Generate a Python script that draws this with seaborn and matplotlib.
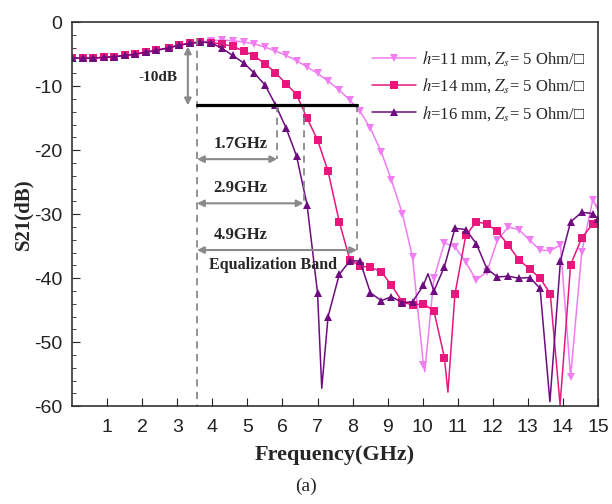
import numpy as np
import pandas as pd
import seaborn as sns
import matplotlib.pyplot as plt
from matplotlib.font_manager import FontProperties

# shared low-frequency part (all three curves overlap there)
low_freq = [0.0, 0.3, 0.6, 0.9, 1.2, 1.5, 1.8, 2.1, 2.4, 2.75, 3.05, 3.35, 3.65]
low_s21 = [-5.6, -5.6, -5.6, -5.5, -5.4, -5.2, -5.0, -4.7, -4.4, -4.0, -3.6, -3.3, -3.1]

hi_freq = [3.95, 4.28, 4.58, 4.9, 5.2, 5.5, 5.8, 6.1, 6.4, 6.7, 7.0, 7.3, 7.62, 7.92,
           8.21, 8.51, 8.82, 9.11, 9.42, 9.71, 10.02, 10.32, 10.62, 10.92, 11.23, 11.53,
           11.83, 12.13, 12.44, 12.74, 13.06, 13.35, 13.64, 13.93, 14.22, 14.54, 14.85, 15.0]

s21_h11 = [-2.9, -2.8, -2.9, -3.1, -3.4, -3.9, -4.5, -5.2, -6.0, -7.0, -8.0, -9.2, -10.6, -12.2,
           -13.9, -16.6, -20.3, -24.7, -29.9, -36.7, -53.5, -40.0, -34.5, -35.1, -37.5, -40.3,
           -39.0, -34.1, -32.0, -32.4, -34.1, -35.6, -35.7, -34.8, -55.4, -35.9, -27.8, -29.0]
s21_h14 = [-3.2, -3.4, -3.8, -4.5, -5.3, -6.5, -7.9, -9.6, -11.3, -15.0, -18.4, -23.3, -31.2, -37.1,
           -38.1, -38.3, -39.0, -41.1, -43.7, -44.2, -44.0, -45.1, -52.4, -42.5, -33.3, -31.2,
           -31.5, -32.7, -34.8, -37.1, -38.6, -40.0, -42.4, np.nan, -37.9, -33.7, -31.5, -31.4]
s21_h16 = [-3.2, -4.1, -5.2, -6.4, -8.0, -9.8, -12.9, -16.5, -20.9, -28.5, -42.3, -46.0, -39.4, -37.3,
           -37.3, -42.3, -43.5, -42.9, -43.8, -43.7, -41.1, -42.0, -38.2, -32.2, -32.4, -34.6,
           -38.5, -39.8, -39.7, -40.0, -39.9, -41.6, np.nan, -37.3, -31.2, -29.7, -29.9, -30.7]

# sharp resonance points between markers (line only)
dip_h11 = ([10.06], [-54.6])
dip_h14 = ([10.72, 13.92], [-57.8, -59.8])
dip_h16 = ([7.12, 10.15, 13.63], [-57.2, -39.3, -59.3])

labels = [r"$h$=11 mm, $Z_s$= 5 Ohm/□", r"$h$=14 mm, $Z_s$= 5 Ohm/□", r"$h$=16 mm, $Z_s$= 5 Ohm/□"]
colors = ["#f07ef0", "#e8177d", "#6c0c7e"]
markers = ["v", "s", "^"]

sns.set_style("ticks")
plt.rcParams['font.family'] = ['Liberation Sans', 'DejaVu Sans']
plt.rcParams['mathtext.fontset'] = 'stix'
plt.rcParams['axes.unicode_minus'] = False

fig = plt.figure(figsize=(6.12, 5.04), dpi=100)
ax = fig.add_axes([0.118, 0.194, 0.859, 0.762])

for vals, dips, lab, col, mk in zip([s21_h11, s21_h14, s21_h16], [dip_h11, dip_h14, dip_h16],
                                    labels, colors, markers):
    pts = pd.DataFrame({'f': low_freq + hi_freq, 's': low_s21 + vals, 'mark': True}).dropna()
    extra = pd.DataFrame({'f': dips[0], 's': dips[1], 'mark': False})
    df = pd.concat([pts, extra]).sort_values('f').reset_index(drop=True)
    sns.lineplot(data=df, x='f', y='s', ax=ax, color=col, marker=mk, markersize=5.5,
                 markeredgewidth=0, lw=1.1, label=lab, markevery=list(df['mark']),
                 sort=False, estimator=None)

# annotation: -10 dB reference and equalization bands
gray = "#8a8a8a"
ax.plot([3.56, 3.56], [-2.5, -60], ls=(0, (4, 3)), color=gray, lw=1.3)
for xe, ye in [(5.85, -21.4), (6.6, -28.3), (8.13, -35.6)]:
    ax.plot([xe, xe], [-13, ye], ls=(0, (4, 3)), color=gray, lw=1.3)
    ax.annotate('', xy=(xe, ye), xytext=(3.56, ye),
                arrowprops=dict(arrowstyle='<|-|>', color=gray, lw=1.5, mutation_scale=10,
                                shrinkA=0, shrinkB=0))
ax.plot([3.56, 8.13], [-13, -13], color='black', lw=2.3)
ax.annotate('', xy=(3.3, -13), xytext=(3.3, -3.8),
            arrowprops=dict(arrowstyle='<|-|>', color=gray, lw=1.5, mutation_scale=10,
                            shrinkA=0, shrinkB=0))

serif_bold = dict(family=['Liberation Serif', 'DejaVu Serif'], weight='bold')
ax.text(2.45, -8.6, '-10dB', ha='center', va='center', fontsize=11, **serif_bold)
ax.text(4.8, -20.3, '1.7GHz', ha='center', va='bottom', fontsize=12, **serif_bold)
ax.text(4.8, -27.2, '2.9GHz', ha='center', va='bottom', fontsize=12, **serif_bold)
ax.text(4.8, -34.5, '4.9GHz', ha='center', va='bottom', fontsize=12, **serif_bold)
ax.text(5.74, -38.0, 'Equalization Band', ha='center', va='center', fontsize=11.5, **serif_bold)

ax.set_xlim(0, 15)
ax.set_ylim(-60, 0)
ax.set_xticks(range(1, 16))
ax.set_yticks(range(-60, 1, 10))
ax.set_yticks(range(-60, 1, 2), minor=True)
ax.tick_params(axis='both', which='both', direction='in', top=False, right=False,
               labelsize=14, colors='#222222')
ax.tick_params(which='major', length=6)
ax.tick_params(axis='x', which='major', pad=9)
ax.tick_params(axis='y', which='major', pad=7)
ax.tick_params(which='minor', length=3)
for sp in ax.spines.values():
    sp.set_visible(True)
    sp.set_color('#333333')
    sp.set_linewidth(1.2)

ax.set_xlabel('Frequency(GHz)', fontsize=16, labelpad=7, **serif_bold)
ax.set_ylabel('S21(dB)', fontsize=15, **serif_bold)
ax.yaxis.set_label_coords(-0.074, 0.5)

leg = ax.legend(loc='upper right', bbox_to_anchor=(1.005, 0.968), frameon=False,
                prop=FontProperties(family=['Liberation Serif', 'DejaVu Serif'], size=12),
                handlelength=2.6, handletextpad=0.4, labelspacing=0.5)

fig.text(0.5, 0.018, '(a)', ha='center', va='bottom', fontsize=14,
         family=['Liberation Serif', 'DejaVu Serif'])

fig.savefig('out.png', dpi=100)
